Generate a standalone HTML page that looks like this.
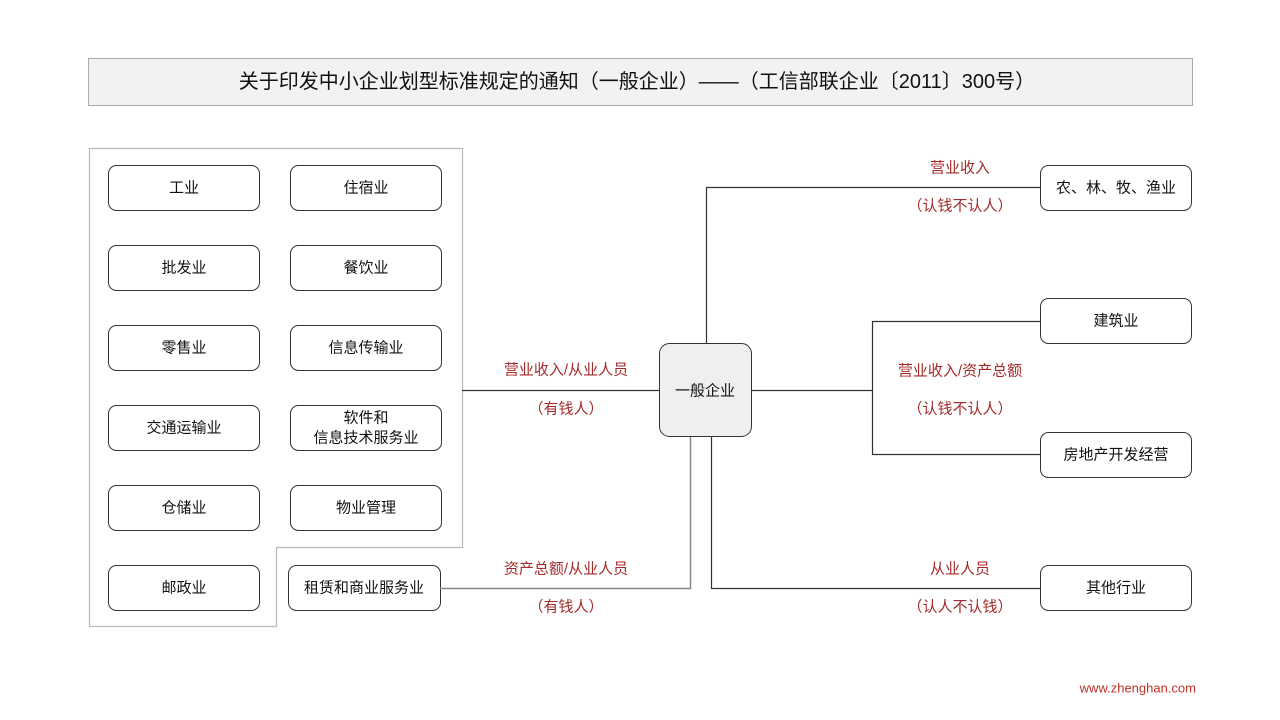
<!DOCTYPE html>
<html><head><meta charset="utf-8"><style>
html,body{margin:0;padding:0;background:#fff;}
svg{display:block;font-family:"Liberation Sans","Noto Sans CJK SC",sans-serif;}
.b{fill:#fff;stroke:#333;stroke-width:1;}
.t{font-size:15px;fill:#111;text-anchor:middle;dominant-baseline:central;}
.r{font-size:15px;fill:#a52a2a;text-anchor:middle;dominant-baseline:central;}
.l{stroke:#333;stroke-width:1.2;fill:none;}
</style></head><body>
<svg width="1280" height="720" viewBox="0 0 1280 720">
<rect x="88.5" y="58.5" width="1104" height="47" fill="#f2f2f2" stroke="#aaa"/>
<text x="637" y="82" class="t" style="font-size:20px">关于印发中小企业划型标准规定的通知（一般企业）——（工信部联企业〔2011〕300号）</text>
<path d="M89.5,148.5 H462.5 V547.5 H276.5 V626.5 H89.5 Z" fill="none" stroke="#bbb" stroke-width="1.2"/>
<g>
<rect class="b" x="108.5" y="165.5" width="151" height="45" rx="8"/><text class="t" x="184" y="188">工业</text>
<rect class="b" x="290.5" y="165.5" width="151" height="45" rx="8"/><text class="t" x="366" y="188">住宿业</text>
<rect class="b" x="108.5" y="245.5" width="151" height="45" rx="8"/><text class="t" x="184" y="268">批发业</text>
<rect class="b" x="290.5" y="245.5" width="151" height="45" rx="8"/><text class="t" x="366" y="268">餐饮业</text>
<rect class="b" x="108.5" y="325.5" width="151" height="45" rx="8"/><text class="t" x="184" y="348">零售业</text>
<rect class="b" x="290.5" y="325.5" width="151" height="45" rx="8"/><text class="t" x="366" y="348">信息传输业</text>
<rect class="b" x="108.5" y="405.5" width="151" height="45" rx="8"/><text class="t" x="184" y="428">交通运输业</text>
<rect class="b" x="290.5" y="405.5" width="151" height="45" rx="8"/><text class="t" x="366" y="418">软件和</text><text class="t" x="366" y="438">信息技术服务业</text>
<rect class="b" x="108.5" y="485.5" width="151" height="45" rx="8"/><text class="t" x="184" y="508">仓储业</text>
<rect class="b" x="290.5" y="485.5" width="151" height="45" rx="8"/><text class="t" x="366" y="508">物业管理</text>
<rect class="b" x="108.5" y="565.5" width="151" height="45" rx="8"/><text class="t" x="184" y="588">邮政业</text>
<rect class="b" x="288.5" y="565.5" width="152" height="45" rx="8"/><text class="t" x="364" y="588">租赁和商业服务业</text>
</g>
<path class="l" d="M462,390.5 H659"/>
<path d="M440,588.5 H690.5 V436" fill="none" stroke="#888" stroke-width="1.5"/>
<path class="l" d="M711.5,436 V588.5 H1040"/>
<path class="l" d="M706.5,343 V187.5 H1040"/>
<path class="l" d="M751,390.5 H872.5"/>
<path class="l" d="M1040,321.5 H872.5 V454.5 H1040"/>
<rect x="659.5" y="343.5" width="92" height="93" rx="10" fill="#efefef" stroke="#333"/>
<text class="t" x="705" y="391">一般企业</text>
<rect class="b" x="1040.5" y="165.5" width="151" height="45" rx="8"/><text class="t" x="1116" y="188">农、林、牧、渔业</text>
<rect class="b" x="1040.5" y="298.5" width="151" height="45" rx="8"/><text class="t" x="1116" y="321">建筑业</text>
<rect class="b" x="1040.5" y="432.5" width="151" height="45" rx="8"/><text class="t" x="1116" y="455">房地产开发经营</text>
<rect class="b" x="1040.5" y="565.5" width="151" height="45" rx="8"/><text class="t" x="1116" y="588">其他行业</text>
<text class="r" x="566" y="370">营业收入/从业人员</text>
<text class="r" x="566" y="409">（有钱人）</text>
<text class="r" x="566" y="569">资产总额/从业人员</text>
<text class="r" x="566" y="607">（有钱人）</text>
<text class="r" x="960" y="168">营业收入</text>
<text class="r" x="960" y="206">（认钱不认人）</text>
<text class="r" x="960" y="371">营业收入/资产总额</text>
<text class="r" x="960" y="409">（认钱不认人）</text>
<text class="r" x="960" y="569">从业人员</text>
<text class="r" x="960" y="607">（认人不认钱）</text>
<text x="1196" y="688" style="font-size:13px;fill:#c0302b;text-anchor:end;dominant-baseline:central">www.zhenghan.com</text>
</svg>
</body></html>
